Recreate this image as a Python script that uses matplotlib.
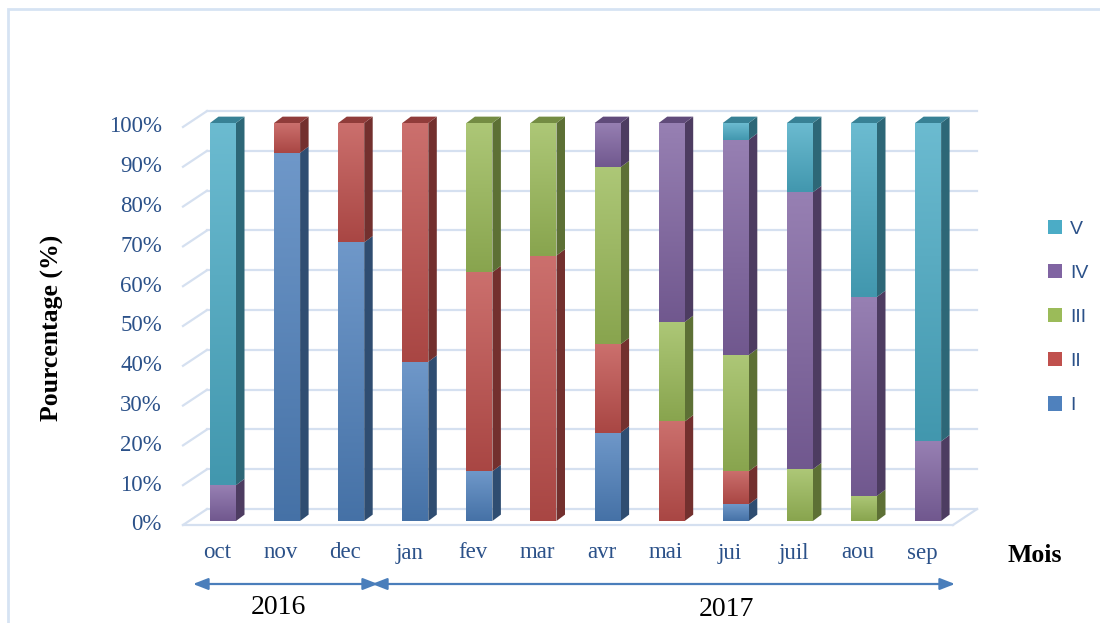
import numpy as np
import matplotlib
matplotlib.use("Agg")
import matplotlib.pyplot as plt
from matplotlib.patches import Polygon, Rectangle, Patch
from matplotlib.colors import to_rgb

# ---------------- data ----------------
months = ["oct", "nov", "dec", "jan", "fev", "mar", "avr", "mai", "jui", "juil", "aou", "sep"]
classes = ["I", "II", "III", "IV", "V"]
cls_I   = [0, 92.5, 70, 40, 12.5, 0, 22.2, 0, 4.2, 0, 0, 0]
cls_II  = [0, 7.5, 30, 60, 50, 66.7, 22.2, 25, 8.3, 0, 0, 0]
cls_III = [0, 0, 0, 0, 37.5, 33.3, 44.5, 25, 29.2, 13.0, 6.3, 0]
cls_IV  = [9, 0, 0, 0, 0, 0, 11.1, 50, 54.1, 69.6, 50.0, 20]
cls_V   = [91, 0, 0, 0, 0, 0, 0, 0, 4.2, 17.4, 43.7, 80]
yticks = [0, 10, 20, 30, 40, 50, 60, 70, 80, 90, 100]
years = ["2016", "2017"]

series = [cls_I, cls_II, cls_III, cls_IV, cls_V]
colors = ["#4F81BD", "#C0504D", "#9BBB59", "#8064A2", "#4BACC6"]

# ---------------- style ----------------
serif = ["Liberation Serif", "DejaVu Serif"]
tick_col = "#2B5189"
grid_col = "#D5E0F0"

fig = plt.figure(figsize=(11, 6.23), dpi=100)
ax = fig.add_axes([0, 0, 1, 1])
PX = 64.1
PY = 3.98
x0px, y0px = 223, 521
ax.set_xlim((0 - x0px) / PX, (1100 - x0px) / PX)
ax.set_ylim((y0px - 623) / PY, (y0px - 0) / PY)
ax.axis("off")

def px2x(p):
    return (p - x0px) / PX

def py2y(p):
    return (y0px - p) / PY

# frame
ax.add_patch(Rectangle((px2x(8), py2y(640)), px2x(1120) - px2x(8), py2y(9) - py2y(640),
                       fill=False, edgecolor="#D6E3F3", lw=2, zorder=0))

# 3D geometry
front_dx, front_dy = -6 / PX, -1.0
back_dx, back_dy = 18 / PX, 3.0
xl_front = px2x(183)
xl_back = xl_front + (back_dx - front_dx)
xr_back = px2x(977)
xr_front = xr_back - (back_dx - front_dx)

for v in yticks:
    ax.plot([xl_front, xl_back], [v + front_dy, v + back_dy], color=grid_col, lw=1.6, zorder=1)
    ax.plot([xl_back, xr_back], [v + back_dy, v + back_dy], color=grid_col, lw=1.6, zorder=1)
    ax.text(px2x(162), v + front_dy, f"{v}%", ha="right", va="center",
            fontsize=16.5, color=tick_col, family=serif)
# floor
ax.plot([xl_front, xr_front], [front_dy, front_dy], color=grid_col, lw=1.6, zorder=1)
ax.plot([xr_front, xr_back], [front_dy, back_dy], color=grid_col, lw=1.6, zorder=1)

# bars
x = np.arange(len(months))
w = 26 / PX
ddx, ddy = 8.5 / PX, 1.6

def shade(c, f):
    r = np.array(to_rgb(c))
    return tuple(np.clip(r * f, 0, 1))

def lighten(c, f):
    r = np.array(to_rgb(c))
    return tuple(np.clip(r + (1 - r) * f, 0, 1))

bottoms = np.zeros(len(months))
for vals, col in zip(series, colors):
    vals = np.array(vals, dtype=float)
    bars = ax.bar(x, vals, width=w, bottom=bottoms, color="none", edgecolor="none", zorder=3)
    for i, b in enumerate(bars):
        if vals[i] <= 0:
            continue
        y0, y1 = bottoms[i], bottoms[i] + vals[i]
        xl, xr = x[i] - w / 2, x[i] + w / 2
        top = np.array(lighten(col, 0.18))
        bot = np.array(shade(col, 0.88))
        grad = np.linspace(0, 1, 64)[:, None, None]
        img = bot * (1 - grad) + top * grad
        im = ax.imshow(img, extent=[xl, xr, y0, y1], origin="lower", aspect="auto", zorder=3,
                       interpolation="bilinear")
        im.set_clip_path(b)
        side = Polygon([(xr, y0), (xr + ddx, y0 + ddy), (xr + ddx, y1 + ddy), (xr, y1)],
                       closed=True, facecolor=shade(col, 0.6), edgecolor="none", zorder=2.9)
        ax.add_patch(side)
    bottoms = bottoms + vals

# top faces
for i in range(len(months)):
    topcol = None
    for vals, col in zip(series, colors):
        if vals[i] > 0:
            topcol = col
    xl, xr = x[i] - w / 2, x[i] + w / 2
    yt = bottoms[i]
    ax.add_patch(Polygon([(xl, yt), (xr, yt), (xr + ddx, yt + ddy), (xl + ddx, yt + ddy)],
                         closed=True, facecolor=shade(topcol, 0.75), edgecolor="none", zorder=4))

# x tick labels
for i, m in enumerate(months):
    ax.text(x[i] + front_dx, py2y(553), m, ha="center", va="center",
            fontsize=16.5, color=tick_col, family=serif)

# axis titles
ax.text(px2x(52), py2y(328), "Pourcentage (%)", rotation=90, ha="center", va="center",
        fontsize=18.5, fontweight="bold", color="black", family=serif)
ax.text(px2x(1035), py2y(556), "Mois", ha="center", va="center",
        fontsize=18.5, fontweight="bold", color="black", family=serif)

# year arrows
arr_col = "#4A7EBB"
ya = py2y(584)
ax.annotate("", xy=(px2x(193), ya), xytext=(px2x(378), ya),
            arrowprops=dict(arrowstyle="<|-|>,head_length=0.9,head_width=0.35", color=arr_col, lw=1.6,
                            shrinkA=0, shrinkB=0))
ax.annotate("", xy=(px2x(955), ya), xytext=(px2x(372), ya),
            arrowprops=dict(arrowstyle="<|-|>,head_length=0.9,head_width=0.35", color=arr_col, lw=1.6,
                            shrinkA=0, shrinkB=0))
ax.text(px2x(278), py2y(608), years[0], ha="center", va="center", fontsize=20, color="black", family=serif)
ax.text(px2x(726), py2y(610), years[1], ha="center", va="center", fontsize=20, color="black", family=serif)

# legend
handles = [Patch(facecolor=c, edgecolor="none") for c in colors][::-1]
labels = classes[::-1]
leg = fig.legend(handles, labels, loc="center left", bbox_to_anchor=(1030 / 1100, 1 - 317 / 623),
                 frameon=False, handlelength=0.75, handleheight=0.75,
                 handletextpad=0.4, labelspacing=1.35, prop={"family": ["Liberation Sans"], "size": 14})
for t in leg.get_texts():
    t.set_color(tick_col)

fig.savefig("out.png", dpi=100)
